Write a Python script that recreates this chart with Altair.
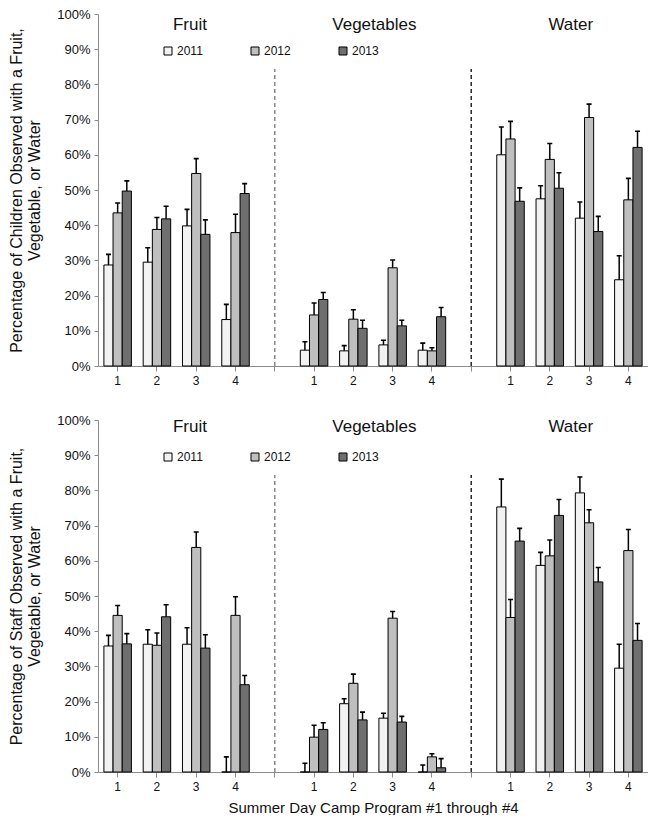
import altair as alt
import pandas as pd

groups = ["Fruit", "Vegetables", "Water"]
group_keys = ["F", "V", "W"]
programs = ["1", "2", "3", "4"]
years = ["2011", "2012", "2013"]
year_colors = ["#f2f2f2", "#bfbfbf", "#6f6f6f"]

# order within each list: Fruit 1-4, Vegetables 1-4, Water 1-4
children_2011 = [28.7, 29.5, 39.8, 13.2, 4.5, 4.3, 6.0, 4.5, 60.0, 47.5, 42.0, 24.5]
children_2011_err = [3.0, 4.1, 4.7, 4.3, 2.4, 1.5, 1.3, 2.0, 7.9, 3.7, 4.6, 6.8]
children_2012 = [43.5, 38.8, 54.7, 37.9, 14.5, 13.3, 27.9, 4.3, 64.5, 58.7, 70.6, 47.2]
children_2012_err = [2.8, 3.4, 4.2, 5.2, 3.4, 2.7, 2.2, 0.9, 5.0, 4.5, 3.8, 6.1]
children_2013 = [49.7, 41.8, 37.4, 49.0, 18.9, 10.7, 11.4, 14.0, 46.8, 50.5, 38.2, 62.1]
children_2013_err = [2.9, 3.6, 4.1, 2.8, 2.0, 2.3, 1.6, 2.6, 3.8, 4.4, 4.3, 4.6]

staff_2011 = [35.8, 36.3, 36.3, 0.0, 0.0, 19.4, 15.3, 0.0, 75.3, 58.7, 79.3, 29.5]
staff_2011_err = [3.0, 4.1, 4.7, 4.3, 2.5, 1.4, 1.4, 2.0, 7.9, 3.7, 4.5, 6.8]
staff_2012 = [44.5, 36.0, 63.8, 44.5, 9.9, 25.2, 43.7, 4.3, 43.9, 61.4, 70.8, 62.9]
staff_2012_err = [2.8, 3.5, 4.4, 5.3, 3.4, 2.6, 1.9, 0.9, 5.1, 4.5, 3.7, 6.0]
staff_2013 = [36.4, 44.1, 35.2, 24.8, 12.1, 14.8, 14.2, 1.2, 65.6, 72.9, 54.0, 37.4]
staff_2013_err = [2.9, 3.4, 3.8, 2.6, 1.9, 2.2, 1.6, 2.6, 3.6, 4.5, 4.1, 4.8]

dividers = ["gap1", "gap2"]
divider_colors = ["#7f7f7f", "#1a1a1a"]
divider_top = 84.4

x_domain = ["F1", "F2", "F3", "F4", "gap1", "V1", "V2", "V3", "V4", "gap2",
            "W1", "W2", "W3", "W4"]

FONT = "Liberation Sans"


def build_df(vals, errs):
    rows = []
    for y, v, e in zip(years, vals, errs):
        for i in range(len(v)):
            g = group_keys[i // 4]
            p = programs[i % 4]
            rows.append({"cat": g + p, "year": y, "value": v[i],
                         "upper": v[i] + e[i]})
    return pd.DataFrame(rows)


def panel(vals, errs, ytitle, xtitle, title_y):
    df = build_df(vals, errs)
    x_scale = alt.Scale(domain=x_domain, paddingInner=0.3, paddingOuter=0.15)
    y_scale = alt.Scale(domain=[0, 100], nice=False)
    off_scale = alt.Scale(domain=years)
    x_axis_kw = dict(
        labelExpr="indexof(datum.value, 'gap') >= 0 ? '' : substring(datum.value, 1)",
        labelAngle=0, labelFontSize=12, labelFont=FONT,
        labelColor="#111111", domainColor="#8c8c8c", tickColor="#8c8c8c",
        tickSize=5, labelPadding=4,
    )
    if xtitle:
        x_axis_kw.update(title=xtitle, titleFont=FONT, titleFontSize=15,
                         titleFontWeight="normal", titleColor="#111111",
                         titlePadding=8)
    else:
        x_axis_kw.update(title="")
    x_axis = alt.Axis(**x_axis_kw)
    y_axis = alt.Axis(
        tickCount=10,
        labelExpr="datum.label + '%'",
        labelFontSize=13, labelFont=FONT, labelColor="#111111",
        domainColor="#8c8c8c", tickColor="#8c8c8c", tickSize=4,
        grid=False, labelPadding=4,
        title=ytitle, titleFont=FONT, titleFontSize=16,
        titleFontWeight="normal", titleColor="#111111", titlePadding=14,
    )
    base = alt.Chart(df)
    bars = base.mark_bar(stroke="black", strokeWidth=1).encode(
        x=alt.X("cat:N", scale=x_scale, axis=x_axis),
        xOffset=alt.XOffset("year:N", scale=off_scale),
        y=alt.Y("value:Q", scale=y_scale, axis=y_axis),
        color=alt.Color(
            "year:N",
            scale=alt.Scale(domain=years, range=year_colors),
            legend=alt.Legend(
                orient="none", legendX=64, legendY=31, direction="horizontal",
                symbolType="square", symbolSize=64,
                symbolStrokeColor="black", symbolStrokeWidth=1,
                labelFontSize=12, labelFont=FONT, labelColor="#111111",
                columnPadding=46, labelOffset=3,
            ),
            title=None,
        ),
    )
    err = base.mark_bar(color="black", size=1.5).encode(
        x=alt.X("cat:N", scale=x_scale),
        xOffset=alt.XOffset("year:N", scale=off_scale),
        y=alt.Y("value:Q", scale=y_scale),
        y2="upper:Q",
    )
    caps = base.mark_bar(fill="black", stroke="black", strokeWidth=1.6,
                         size=5).encode(
        x=alt.X("cat:N", scale=x_scale),
        xOffset=alt.XOffset("year:N", scale=off_scale),
        y=alt.Y("upper:Q", scale=y_scale),
        y2="upper:Q",
    )
    layers = [bars]
    for d, c in zip(dividers, divider_colors):
        ddf = pd.DataFrame({"cat": [d], "lo": [0.0], "hi": [divider_top]})
        layers.append(
            alt.Chart(ddf).mark_rule(color=c, strokeDash=[4, 3], strokeWidth=1.4).encode(
                x=alt.X("cat:N", scale=x_scale),
                y=alt.Y("lo:Q", scale=y_scale),
                y2="hi:Q",
            )
        )
    tdf1 = pd.DataFrame({"cat": ["F2"], "label": [groups[0]], "ty": [title_y]})
    tdf2 = pd.DataFrame({"cat": ["V2", "W2"], "label": groups[1:], "ty": [title_y, title_y]})
    t1 = alt.Chart(tdf1).mark_text(fontSize=17, font=FONT, color="#111111", dx=33,
                                   baseline="middle").encode(
        x=alt.X("cat:N", scale=x_scale),
        y=alt.Y("ty:Q", scale=y_scale),
        text="label:N",
    )
    t2 = alt.Chart(tdf2).mark_text(fontSize=17, font=FONT, color="#111111", dx=21,
                                   baseline="middle").encode(
        x=alt.X("cat:N", scale=x_scale),
        y=alt.Y("ty:Q", scale=y_scale),
        text="label:N",
    )
    layers += [err, caps, t1, t2]
    return alt.layer(*layers).properties(width=550, height=352)


top = panel([children_2011, children_2012, children_2013],
            [children_2011_err, children_2012_err, children_2013_err],
            ["Percentage of Children Observed with a Fruit,", "Vegetable, or Water"],
            "", 97.0)
bottom = panel([staff_2011, staff_2012, staff_2013],
               [staff_2011_err, staff_2012_err, staff_2013_err],
               ["Percentage of Staff Observed with a Fruit,", "Vegetable, or Water"],
               "Summer Day Camp Program #1 through #4", 98.0)

chart = alt.vconcat(top, bottom, spacing=28).resolve_legend(
    color="independent"
).properties(padding=0).configure_view(strokeWidth=0)

chart.save("out.html", embed_options={"renderer": "svg", "actions": False})
